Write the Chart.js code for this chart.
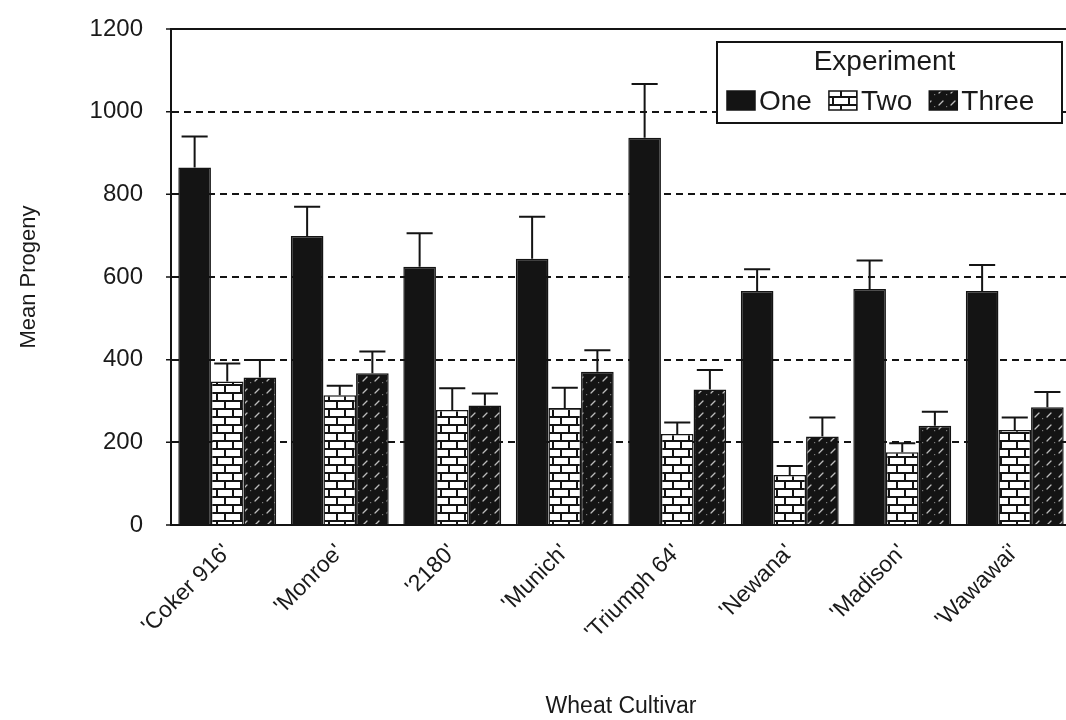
<!DOCTYPE html>
<html>
<head>
<meta charset="utf-8">
<script src="https://cdn.jsdelivr.net/npm/chart.js@4.4.1/dist/chart.umd.min.js"></script>
<style>
html,body{margin:0;padding:0;overflow:hidden;background:#fff;}
canvas{display:block;position:absolute;left:0;top:0;}
</style>
</head>
<body>
<canvas id="c" width="1072" height="720"></canvas>
<script>
// ---- data ----
const categories = ["'Coker 916'", "'Monroe'", "'2180'", "'Munich'", "'Triumph 64'", "'Newana'", "'Madison'", "'Wawawai'"];
const seriesNames = ['One', 'Two', 'Three'];
const one      = [865, 699, 625, 644, 937, 566, 571, 566];
const oneErr   = [75, 71, 81, 102, 130, 53, 69, 63];
const two      = [347, 314, 278, 283, 220, 121, 176, 230];
const twoErr   = [44, 23, 53, 49, 28, 22, 22, 30];
const three    = [357, 367, 289, 371, 328, 214, 240, 285];
const threeErr = [42, 53, 29, 52, 47, 46, 34, 37];
const yTicks   = [0, 200, 400, 600, 800, 1000, 1200];
const legendTitle = 'Experiment';
const xTitle = 'Wheat Cultivar';
const yTitle = 'Mean Progeny';

const INK = '#141414';
const FONT = "'Liberation Sans', Arial, sans-serif";

const canvas = document.getElementById('c');
const ctx0 = canvas.getContext('2d');

function brickPattern(ctx) {
  const c = document.createElement('canvas'); c.width = 16; c.height = 16;
  const g = c.getContext('2d');
  g.fillStyle = '#fff'; g.fillRect(0, 0, 16, 16);
  g.fillStyle = INK;
  g.fillRect(0, 0, 16, 2); g.fillRect(0, 8, 16, 2);
  g.fillRect(0, 2, 2, 6); g.fillRect(8, 10, 2, 6);
  return ctx.createPattern(c, 'repeat');
}
function hatchPattern(ctx) {
  const c = document.createElement('canvas'); c.width = 12; c.height = 12;
  const g = c.getContext('2d');
  g.fillStyle = INK; g.fillRect(0, 0, 12, 12);
  g.strokeStyle = '#bdbdbd'; g.lineWidth = 1.2; g.lineCap = 'round';
  g.beginPath(); g.moveTo(3, 9); g.lineTo(7, 5); g.stroke();
  g.fillStyle = '#7a7a7a'; g.fillRect(10, 10, 1.2, 1.2);
  return ctx.createPattern(c, 'repeat');
}
const fills = [INK, brickPattern(ctx0), hatchPattern(ctx0)];
const values = [one, two, three];
const errors = [oneErr, twoErr, threeErr];

const errorBars = {
  id: 'errorBars',
  afterDatasetsDraw(chart) {
    const ctx = chart.ctx, y = chart.scales.y;
    chart.data.datasets.forEach((ds, di) => {
      const meta = chart.getDatasetMeta(di);
      meta.data.forEach((bar, i) => {
        const v = ds.data[i], e = errors[di][i];
        const yb = y.getPixelForValue(v), yt = y.getPixelForValue(v + e);
        const half = bar.width * 0.4;
        ctx.save();
        ctx.strokeStyle = INK; ctx.lineWidth = 2;
        ctx.beginPath();
        ctx.moveTo(bar.x, yb); ctx.lineTo(bar.x, yt);
        ctx.moveTo(bar.x - half, yt); ctx.lineTo(bar.x + half, yt);
        ctx.stroke();
        ctx.restore();
      });
    });
  }
};

const frameAndLegend = {
  id: 'frameAndLegend',
  afterDraw(chart) {
    const ctx = chart.ctx, a = chart.chartArea, ys = chart.scales.y;
    ctx.save();
    ctx.strokeStyle = INK; ctx.lineWidth = 2;
    ctx.beginPath();
    ctx.moveTo(a.left, a.top); ctx.lineTo(a.right, a.top); ctx.lineTo(a.right, a.bottom);
    ctx.stroke();
    // small tick marks on the value axis
    ctx.lineWidth = 1.5;
    ctx.beginPath();
    yTicks.forEach(v => { const p = ys.getPixelForValue(v); ctx.moveTo(a.left - 5, p); ctx.lineTo(a.left, p); });
    ctx.stroke();
    // legend box
    const x0 = a.right - 354, y0 = a.top + 13, w = 345, h = 81;
    ctx.fillStyle = '#fff'; ctx.fillRect(x0, y0, w, h);
    ctx.lineWidth = 2; ctx.strokeRect(x0, y0, w, h);
    ctx.fillStyle = '#1a1a1a';
    ctx.font = '28px ' + FONT;
    ctx.textAlign = 'center'; ctx.textBaseline = 'alphabetic';
    ctx.fillText(legendTitle, x0 + w / 2 - 5, y0 + 28);
    ctx.textAlign = 'left';
    let cx = x0 + 10;
    const by = y0 + 49, bh = 19, bw = 28;
    seriesNames.forEach((name, i) => {
      ctx.fillStyle = fills[i];
      ctx.fillRect(cx, by, bw, bh);
      ctx.lineWidth = 1.5; ctx.strokeStyle = INK; ctx.strokeRect(cx, by, bw, bh);
      ctx.fillStyle = '#1a1a1a';
      ctx.fillText(name, cx + bw + 4, by + bh);
      cx += bw + 4 + ctx.measureText(name).width + 17;
    });
    ctx.restore();
  }
};

new Chart(canvas, {
  type: 'bar',
  data: {
    labels: categories,
    datasets: seriesNames.map((n, i) => ({
      label: n,
      data: values[i],
      backgroundColor: fills[i],
      borderColor: INK,
      borderWidth: 1.5,
      categoryPercentage: 0.87,
      barPercentage: 1.0
    }))
  },
  options: {
    responsive: false,
    animation: false,
    layout: { padding: { left: 0, top: 29, right: 1, bottom: 0 } },
    plugins: { legend: { display: false }, tooltip: { enabled: false } },
    scales: {
      x: {
        afterFit(s) { s.height = 195; },
        grid: { display: false },
        border: { display: true, color: INK, width: 2 },
        ticks: { autoSkip: false, maxRotation: 45, minRotation: 45, padding: 6, color: '#1a1a1a', font: { family: FONT, size: 23 } },
        title: { display: true, text: xTitle, color: '#1a1a1a', font: { family: FONT, size: 23 }, padding: { top: 0, bottom: 0 } }
      },
      y: {
        min: 0, max: 1200,
        afterFit(s) { s.width = 171; },
        afterBuildTicks(s) { s.ticks = yTicks.map(v => ({ value: v })); },
        grid: {
          color: c => (c.tick && (c.tick.value === 0 || c.tick.value === 1200)) ? 'rgba(0,0,0,0)' : INK,
          lineWidth: 2, tickLength: 26, tickColor: 'rgba(0,0,0,0)'
        },
        border: { display: true, color: INK, width: 2, dash: [7, 5] },
        ticks: { padding: 2, color: '#1a1a1a', font: { family: FONT, size: 24 }, callback: v => String(v) },
        title: { display: true, text: yTitle, color: '#1a1a1a', font: { family: FONT, size: 22 }, padding: { top: 16, bottom: 0 } }
      }
    }
  },
  plugins: [errorBars, frameAndLegend]
});
</script>
</body>
</html>
